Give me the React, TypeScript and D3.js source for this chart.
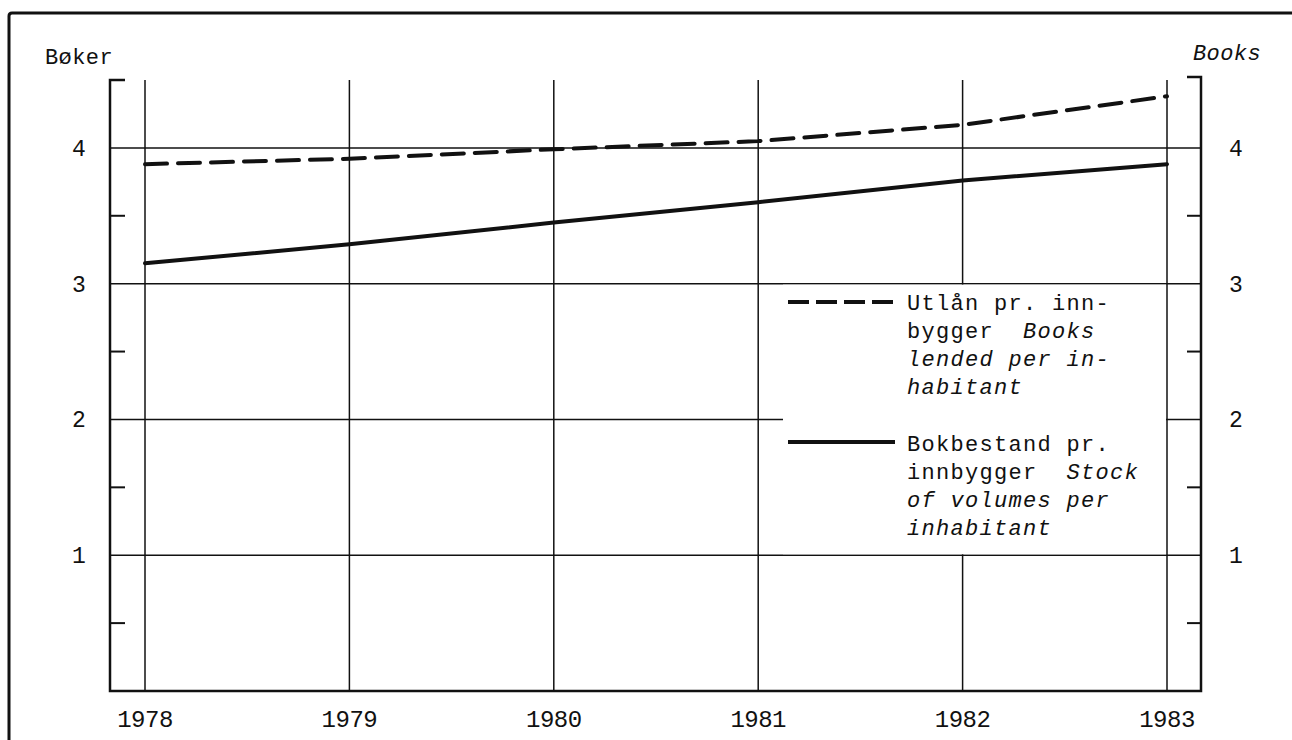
import { useEffect, useRef } from "react";
import * as d3 from "d3";

// Data
const years = [1978, 1979, 1980, 1981, 1982, 1983];
const lentPerInhabitant = [3.88, 3.92, 3.99, 4.05, 4.17, 4.38];
const stockPerInhabitant = [3.15, 3.29, 3.45, 3.6, 3.76, 3.88];
const yLabels = [1, 2, 3, 4];
const yMinorTicks = [0.5, 1.5, 2.5, 3.5];

const legendLent: [string, boolean][][] = [
  [["Utlån pr. inn-", false]],
  [["bygger  ", false], ["Books", true]],
  [["lended per in-", true]],
  [["habitant", true]],
];
const legendStock: [string, boolean][][] = [
  [["Bokbestand pr.", false]],
  [["innbygger  ", false], ["Stock", true]],
  [["of volumes per", true]],
  [["inhabitant", true]],
];

const FONT = "'Liberation Mono', 'DejaVu Sans Mono', monospace";
const INK = "#111";

export default function App() {
  const svgRef = useRef<SVGSVGElement>(null);

  useEffect(() => {
    if (!svgRef.current) return;
    const svg = d3.select(svgRef.current);
    svg.selectAll("*").remove();

    const width = 1292;
    const height = 740;
    const left = 110;
    const right = 1201;

    const x = d3.scaleLinear().domain([1978, 1983]).range([145, 1167]);
    const y = d3.scaleLinear().domain([0, 4.5]).range([691, 80]);

    svg.append("rect").attr("width", width).attr("height", height).attr("fill", "#fff");

    // Outer frame (top + left only, as in the scan)
    svg
      .append("path")
      .attr("d", `M9,${height + 5} L9,16 Q9,13 12,13 L${width + 10},13`)
      .attr("fill", "none")
      .attr("stroke", INK)
      .attr("stroke-width", 3);

    // Horizontal gridlines
    svg
      .selectAll(".hgrid")
      .data(yLabels)
      .enter()
      .append("line")
      .attr("x1", left)
      .attr("x2", right)
      .attr("y1", (d) => y(d))
      .attr("y2", (d) => y(d))
      .attr("stroke", INK)
      .attr("stroke-width", 1.5);

    // Vertical gridlines
    svg
      .selectAll(".vgrid")
      .data(years)
      .enter()
      .append("line")
      .attr("x1", (d) => x(d))
      .attr("x2", (d) => x(d))
      .attr("y1", y(4.5))
      .attr("y2", y(0))
      .attr("stroke", INK)
      .attr("stroke-width", 1.5);

    // Axes
    svg
      .append("path")
      .attr("d", `M${left + 15},${y(4.5)} H${left} V${y(0)} H${right} V${y(4.5) - 3} H${right - 14}`)
      .attr("fill", "none")
      .attr("stroke", INK)
      .attr("stroke-width", 2.5);

    // Minor ticks
    yMinorTicks.forEach((v) => {
      svg.append("line").attr("x1", left).attr("x2", left + 15).attr("y1", y(v)).attr("y2", y(v))
        .attr("stroke", INK).attr("stroke-width", 2);
      svg.append("line").attr("x1", right - 14).attr("x2", right).attr("y1", y(v)).attr("y2", y(v))
        .attr("stroke", INK).attr("stroke-width", 2);
    });

    // Y labels both sides
    yLabels.forEach((v) => {
      svg.append("text").attr("x", 79).attr("y", y(v)).attr("dy", "0.35em")
        .attr("text-anchor", "middle").attr("font-family", FONT).attr("font-size", 23)
        .attr("fill", INK).text(String(v));
      svg.append("text").attr("x", 1236).attr("y", y(v)).attr("dy", "0.35em")
        .attr("text-anchor", "middle").attr("font-family", FONT).attr("font-size", 23)
        .attr("fill", INK).text(String(v));
    });

    // X labels
    years.forEach((yr) => {
      svg.append("text").attr("x", x(yr)).attr("y", 727)
        .attr("text-anchor", "middle").attr("font-family", FONT).attr("font-size", 24)
        .attr("letter-spacing", -0.5).attr("fill", INK).text(String(yr));
    });

    // Axis titles
    svg.append("text").attr("x", 45).attr("y", 64).attr("font-family", FONT)
      .attr("font-size", 22).attr("letter-spacing", 0.4).attr("fill", INK).text("Bøker");
    svg.append("text").attr("x", 1193).attr("y", 60).attr("font-family", FONT)
      .attr("font-style", "italic").attr("font-size", 22).attr("letter-spacing", 0.4)
      .attr("fill", INK).text("Books");

    // Legend box masks the gridlines it sits on
    svg.append("rect")
      .attr("x", 783)
      .attr("y", y(3) + 1)
      .attr("width", x(1983) - 1 - 783)
      .attr("height", y(1) - y(3) - 2)
      .attr("fill", "#fff");

    // Series
    const line = d3
      .line<number>()
      .x((_, i) => x(years[i]))
      .y((d) => y(d));

    svg.append("path").datum(lentPerInhabitant).attr("d", line)
      .attr("fill", "none").attr("stroke", INK).attr("stroke-width", 4)
      .attr("stroke-dasharray", "22 11").attr("stroke-linecap", "round");

    svg.append("path").datum(stockPerInhabitant).attr("d", line)
      .attr("fill", "none").attr("stroke", INK).attr("stroke-width", 4)
      .attr("stroke-linecap", "round");

    // Legend
    const lx = 788;
    const tx = 907;
    svg.append("line").attr("x1", lx).attr("x2", 895).attr("y1", 302).attr("y2", 302)
      .attr("stroke", INK).attr("stroke-width", 4).attr("stroke-dasharray", "21 7");
    svg.append("line").attr("x1", lx).attr("x2", 895).attr("y1", 442).attr("y2", 442)
      .attr("stroke", INK).attr("stroke-width", 4);

    const drawBlock = (rows: [string, boolean][][], y0: number) => {
      rows.forEach((row, i) => {
        const t = svg.append("text").attr("x", tx).attr("y", y0 + i * 28)
          .attr("font-family", FONT).attr("font-size", 22).attr("letter-spacing", 1.3)
          .attr("fill", INK).style("white-space", "pre");
        row.forEach(([s, it]) => {
          t.append("tspan").attr("font-style", it ? "italic" : "normal").text(s);
        });
      });
    };
    drawBlock(legendLent, 310);
    drawBlock(legendStock, 451);
  }, []);

  return (
    <svg
      ref={svgRef}
      width={1292}
      height={740}
      style={{ position: "absolute", left: 0, top: 0 }}
    ></svg>
  );
}
